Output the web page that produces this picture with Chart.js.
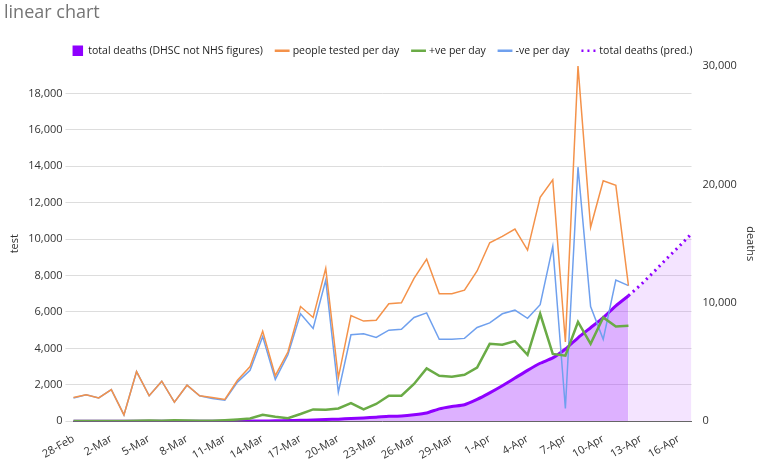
<!DOCTYPE html>
<html><head><meta charset="utf-8">
<script src="https://cdn.jsdelivr.net/npm/chart.js@4"></script>
<style>html,body{margin:0;background:#fff}#w{width:767px;height:465px}</style>
</head><body><div id="w"><canvas id="c"></canvas></div>
<script>
const labels=["28-Feb","29-Feb","1-Mar","2-Mar","3-Mar","4-Mar","5-Mar","6-Mar","7-Mar","8-Mar","9-Mar","10-Mar","11-Mar","12-Mar","13-Mar","14-Mar","15-Mar","16-Mar","17-Mar","18-Mar","19-Mar","20-Mar","21-Mar","22-Mar","23-Mar","24-Mar","25-Mar","26-Mar","27-Mar","28-Mar","29-Mar","30-Mar","31-Mar","1-Apr","2-Apr","3-Apr","4-Apr","5-Apr","6-Apr","7-Apr","8-Apr","9-Apr","10-Apr","11-Apr","12-Apr","13-Apr","14-Apr","15-Apr","16-Apr","17-Apr"];
const testTicks=[0,2000,4000,6000,8000,10000,12000,14000,16000,18000];
const tested=[1300,1450,1280,1740,350,2730,1400,2200,1050,1980,1400,1300,1200,2250,3000,4950,2500,3800,6300,5700,8400,2400,5800,5500,5550,6450,6500,7850,8900,7000,7000,7200,8250,9800,10150,10550,9400,12300,13250,4350,19500,10650,13200,12950,7450];
const positive=[10,10,10,20,20,30,40,30,50,40,30,30,60,100,150,350,250,170,400,650,630,700,1000,650,950,1400,1400,2050,2900,2500,2450,2550,2950,4250,4200,4400,3650,5900,3700,3600,5450,4250,5700,5200,5250];
const negative=[1280,1450,1280,1740,350,2730,1400,2200,1050,1980,1400,1250,1150,2150,2800,4650,2300,3650,5900,5100,7750,1600,4750,4800,4600,5000,5050,5700,5950,4500,4500,4550,5150,5400,5900,6100,5650,6400,9600,700,13950,6300,4500,7750,7450];
const deaths=[0,0,0,0,0,1,1,2,2,3,4,6,8,10,15,25,40,60,80,110,150,180,230,280,340,420,450,550,700,1050,1250,1400,1850,2400,3000,3650,4300,4900,5350,6100,7050,7900,8750,9750,10600];
const deathsPred=[...Array(44).fill(null),10600,11550,12600,13700,14750,15850];
const P='#8f00ff';
const F={size:11,family:'Open Sans'};
new Chart(document.getElementById('c'),{
 type:'line',
 data:{labels,datasets:[
  {label:'total deaths (DHSC not NHS figures)',data:deaths,yAxisID:'y2',borderColor:P,backgroundColor:'rgba(170,60,255,0.4)',fill:'origin',borderWidth:3,pointRadius:0,tension:0.2,order:5},
  {label:'people tested per day',data:tested,yAxisID:'y',borderColor:'#f4924a',borderWidth:1.5,pointRadius:0,fill:false},
  {label:'+ve per day',data:positive,yAxisID:'y',borderColor:'#6aab46',borderWidth:2.5,pointRadius:0,fill:false},
  {label:'-ve per day',data:negative,yAxisID:'y',borderColor:'#6fa0ee',borderWidth:1.5,pointRadius:0,fill:false},
  {label:'total deaths (pred.)',data:deathsPred,yAxisID:'y2',borderColor:P,backgroundColor:'rgba(200,120,255,0.2)',fill:'origin',borderWidth:3,borderDash:[2,4],pointRadius:0,order:6}
 ]},
 options:{responsive:true,maintainAspectRatio:false,animation:false,
  layout:{padding:{left:4,right:6,top:0,bottom:0}},
  plugins:{
   title:{display:true,text:'linear chart',align:'start',color:'#757575',font:{size:18,family:'Open Sans',weight:'normal'},padding:{top:2,bottom:8}},
   legend:{position:'top',labels:{usePointStyle:true,boxWidth:16,boxHeight:12,color:'#222',font:{size:10.5,family:'Open Sans'},padding:14,
    generateLabels(ch){return ch.data.datasets.map((d,i)=>({text:d.label,datasetIndex:i,fillStyle:i==0?P:d.borderColor,strokeStyle:d.borderColor,lineWidth:i==0?0:2.5,lineDash:d.borderDash||[],pointStyle:i==0?'rect':'line',fontColor:'#222'}));}}}
  },
  scales:{
   x:{grid:{display:false},border:{color:'#666'},ticks:{autoSkip:false,maxRotation:30,minRotation:30,color:'#333',font:F,callback(v,i){return i%3===0?labels[i]:''}}},
   y:{position:'left',min:0,max:19500,title:{display:true,text:'test',color:'#333',font:F},
      afterBuildTicks(a){a.ticks=testTicks.map(v=>({value:v}));},
      ticks:{color:'#333',font:F},grid:{color:'#ddd'},border:{display:false}},
   y2:{position:'right',min:0,max:30000,title:{display:true,text:'deaths',color:'#333',font:F},
      ticks:{stepSize:10000,color:'#333',font:F},grid:{display:false},border:{display:false}}
  }}
});
</script></body></html>
